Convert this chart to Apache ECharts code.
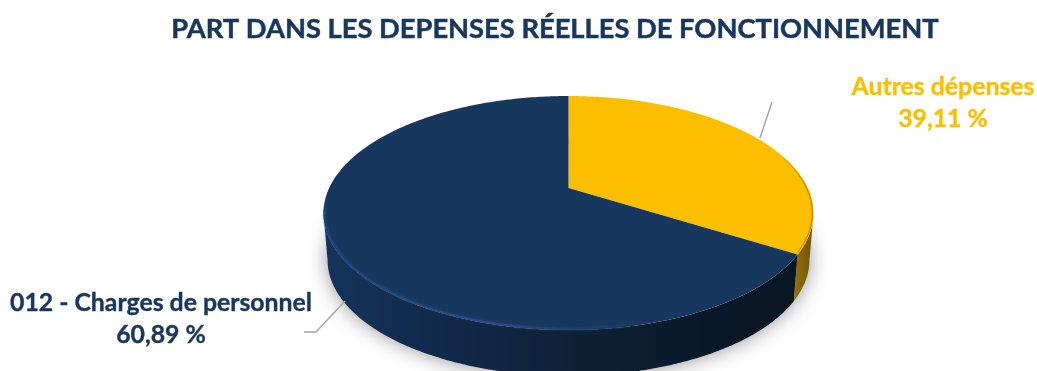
<!DOCTYPE html>
<html lang="fr">
<head>
<meta charset="utf-8">
<style>html,body{margin:0;padding:0;background:#fff}#chart{width:1037px;height:371px}</style>
<script src="https://cdn.jsdelivr.net/npm/echarts@6/dist/echarts.min.js"></script>
</head>
<body>
<div id="chart"></div>
<script>
// Part de chaque poste dans les dépenses réelles de fonctionnement
const chartTitle = 'PART DANS LES DEPENSES RÉELLES DE FONCTIONNEMENT';
const categories = ['Autres dépenses', '012 - Charges de personnel'];
const values = [39.11, 60.89];

const NAVY = '#17375e';
const GOLD = '#fcbf00';
const FONT = 'Lato, "Open Sans", sans-serif';

// Tilted disc: top face, bottom face and the projected centre of the disc
const top_ = { cx: 568.5, cy: 213, rx: 245, ry: 117 };
const bevel = { cx: 568.5, cy: 213, rx: 243.8, ry: 116 };
const bottom = { cx: 568.5, cy: 260, rx: 241, ry: 116 };
const apex = [568.5, 188];
// Perspective squeeze of the angles on the far side of the disc
const squeeze = 0.516;

const total = values.reduce((a, b) => a + b, 0);
const deg = Math.PI / 180;

// Slice angle (degrees clockwise from 12 o'clock) to angle on the projected ellipse
function project(a) {
  const h = a * deg / 2;
  const p = 2 * Math.atan2(squeeze * Math.sin(h), Math.cos(h)) / deg;
  return p < 0 ? p + 360 : p;
}
function rim(e, a) {
  return [e.cx + e.rx * Math.sin(a * deg), e.cy - e.ry * Math.cos(a * deg)];
}
function arc(e, from, to) {
  const n = Math.max(2, Math.ceil(Math.abs(to - from) * 1.5));
  const pts = [];
  for (let i = 0; i <= n; i++) pts.push(rim(e, from + (to - from) * i / n));
  return pts;
}
function horizontal(stops, x1, x2) {
  // gradient in global pixels across the disc's width
  return new echarts.graphic.LinearGradient(x1, 0, x2, 0,
    stops.map(s => ({ offset: s[0], color: s[1] })), true);
}

// Slice-specific looks: wall gradient and label placement
const looks = [
  { face: GOLD, wall: [[0, '#94700a'], [1, '#6f5300']], text: GOLD,
    labelX: 943, labelY: 71, leader: [[772, 102], [760, 138]] },
  { face: NAVY, wall: [[0, '#15335a'], [0.25, '#11294a'], [0.5, '#0e2238'], [0.75, '#0a1a2c'], [1, '#081522']], text: NAVY,
    labelX: 161, labelY: 287.5, leader: [[304, 332], [316, 332], [345, 301]] }
];

function renderSlice(params, api) {
  const i = params.dataIndex;
  const before = values.slice(0, i).reduce((a, b) => a + b, 0);
  const startAngle = project(before / total * 360);
  const endValue = (before + api.value(0)) / total * 360;
  const endAngle = endValue >= 360 ? 360 : project(endValue);
  const look = looks[i];
  const children = [];

  // Outer wall: only the part of the rim facing the viewer
  const wallFrom = Math.max(startAngle, 90);
  const wallTo = Math.min(endAngle, 270);
  if (wallTo > wallFrom) {
    const wallPts = arc(top_, wallFrom, wallTo).concat(arc(bottom, wallTo, wallFrom));
    const x1 = Math.min(...wallPts.map(p => p[0]));
    const x2 = Math.max(...wallPts.map(p => p[0]));
    children.push({ type: 'polygon', shape: { points: wallPts },
      style: { fill: horizontal(look.wall, x1, x2) } });
  }

  // Top face
  children.push({ type: 'polygon',
    shape: { points: [apex].concat(arc(top_, startAngle, endAngle)) },
    style: { fill: look.face } });

  // Bevel just inside the rim
  if (i === 0) {
    children.push({ type: 'polyline', shape: { points: arc(bevel, 62, endAngle - 1) },
      style: { fill: 'none', lineWidth: 1.4,
        stroke: horizontal([[0, GOLD], [0.5, '#e0aa00'], [1, '#b98e00']], 770, 813) } });
  } else {
    children.push({ type: 'polyline', shape: { points: arc(bevel, 165, 274) },
      style: { fill: 'none', lineWidth: 1.8, shadowBlur: 2, shadowColor: '#2a4c80',
        stroke: horizontal([[0, '#1f4274'], [0.5, '#2c4e80'], [0.85, '#1f3f6b'], [1, NAVY]], 324, 630) } });
  }

  // Leader line
  children.push({ type: 'polyline', shape: { points: look.leader },
    style: { fill: 'none', stroke: '#a6a6a6', lineWidth: 1.5 } });

  // Label: category and share
  children.push({ type: 'text',
    style: {
      text: categories[i] + '\n' + api.value(0).toFixed(2).replace('.', ',') + ' %',
      x: look.labelX, y: look.labelY, align: 'center', verticalAlign: 'top',
      fill: look.text, font: 'bold 24.8px ' + FONT, lineHeight: 32,
      stroke: look.text, lineWidth: 0.4
    } });

  return { type: 'group', children };
}

const chart = echarts.init(document.getElementById('chart'), null, { renderer: 'canvas' });
chart.setOption({
  animation: false,
  title: {
    text: chartTitle, left: 550, top: 11, textAlign: 'center',
    textStyle: { color: NAVY, fontFamily: FONT, fontWeight: 'bold', fontSize: 27.3,
      textBorderColor: NAVY, textBorderWidth: 0.5 }
  },
  series: [
    {
      // Soft shadow under the disc
      type: 'custom', coordinateSystem: 'none', silent: true, z: 1, data: [total],
      renderItem: () => ({
        type: 'polygon',
        shape: { points: arc(bottom, 0, 360) },
        style: { fill: '#ffffff', shadowBlur: 20, shadowColor: 'rgba(0,0,0,0.42)' }
      })
    },
    {
      type: 'custom', coordinateSystem: 'none', silent: true, z: 2,
      data: values.map(v => [v]),
      renderItem: renderSlice
    }
  ]
});
</script>
</body>
</html>
